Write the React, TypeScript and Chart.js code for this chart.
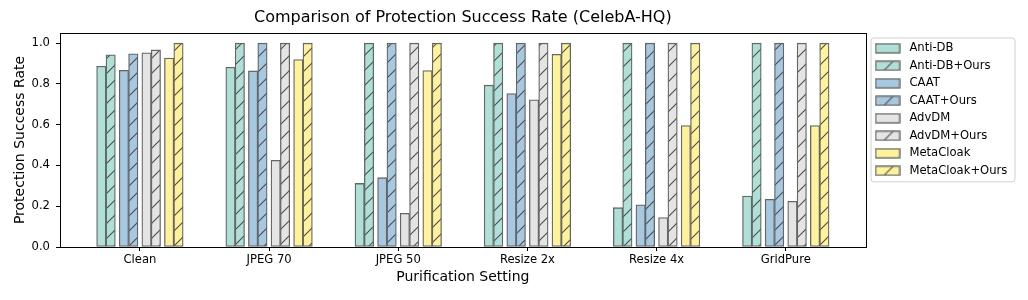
import React, { useEffect, useRef } from 'react';
import { Chart, registerables } from 'chart.js';

Chart.register(...registerables);

// ---------- data ----------
const categories = ['Clean', 'JPEG 70', 'JPEG 50', 'Resize 2x', 'Resize 4x', 'GridPure'];
const antiDB = [0.887, 0.882, 0.312, 0.794, 0.193, 0.25];
const antiDBOurs = [0.943, 1.0, 1.0, 1.0, 1.0, 1.0];
const caat = [0.867, 0.864, 0.34, 0.753, 0.207, 0.234];
const caatOurs = [0.948, 1.0, 1.0, 1.0, 1.0, 1.0];
const advDM = [0.953, 0.425, 0.165, 0.722, 0.144, 0.224];
const advDMOurs = [0.967, 1.0, 1.0, 1.0, 1.0, 1.0];
const metaCloak = [0.927, 0.92, 0.866, 0.945, 0.596, 0.596];
const metaCloakOurs = [1.0, 1.0, 1.0, 1.0, 1.0, 1.0];
const yTicks = [0, 0.2, 0.4, 0.6, 0.8, 1.0];

const seriesLabels = [
  'Anti-DB', 'Anti-DB+Ours', 'CAAT', 'CAAT+Ours',
  'AdvDM', 'AdvDM+Ours', 'MetaCloak', 'MetaCloak+Ours',
];
const seriesValues = [antiDB, antiDBOurs, caat, caatOurs, advDM, advDMOurs, metaCloak, metaCloakOurs];

// ---------- styles ----------
const fills = ['#afe0d8', '#a6c8e0', '#e4e4e4', '#fff29a'];
const EDGE = '#666666';
const HATCH = '#4d4d4d';
const FONT = 'DejaVu Sans';
const PAIR_SPACING = 0.175;
const BAR_W = 0.0725;
const HATCH_STEP = 15;

const barEdge = 1.5 * PAIR_SPACING + BAR_W;
const span = categories.length - 1 + 2 * barEdge;
const X_MIN = -barEdge - 0.05 * span;
const X_MAX = categories.length - 1 + barEdge + 0.05 * span;
const Y_MAX = 1.0 + 0.05 * 1.0;

function makeHatch(ctx: CanvasRenderingContext2D, fill: string) {
  const s = HATCH_STEP;
  const c = document.createElement('canvas');
  c.width = s;
  c.height = s;
  const g = c.getContext('2d')!;
  g.fillStyle = fill;
  g.fillRect(0, 0, s, s);
  g.strokeStyle = HATCH;
  g.lineWidth = 1.1;
  g.beginPath();
  g.moveTo(-1, s + 1);
  g.lineTo(s + 1, -1);
  g.moveTo(-1, 1);
  g.lineTo(1, -1);
  g.moveTo(s - 1, s + 1);
  g.lineTo(s + 1, s - 1);
  g.stroke();
  return ctx.createPattern(c, 'repeat')!;
}

function makePatch(fill: string, hatched: boolean) {
  const w = 26;
  const h = 11;
  const c = document.createElement('canvas');
  c.width = w;
  c.height = h;
  const g = c.getContext('2d')!;
  g.fillStyle = fill;
  g.fillRect(1, 1, w - 2, h - 2);
  if (hatched) {
    g.save();
    g.beginPath();
    g.rect(1, 1, w - 2, h - 2);
    g.clip();
    g.strokeStyle = HATCH;
    g.lineWidth = 1.1;
    g.beginPath();
    const cx = w / 2 + 1;
    g.moveTo(cx - h / 2, h);
    g.lineTo(cx + h / 2, 0);
    g.stroke();
    g.restore();
  }
  g.strokeStyle = EDGE;
  g.lineWidth = 1.3;
  g.strokeRect(1, 1, w - 2, h - 2);
  return c;
}

const LEGEND_SHIFT = 3.6;
const LEGEND_PAD = 5.9;
const LEGEND_ROW = 17.5;

const legendFrame = {
  id: 'legendFrame',
  afterLayout(chart: any) {
    const lg = chart.legend;
    if (lg) {
      lg.top += LEGEND_SHIFT;
      lg.bottom += LEGEND_SHIFT;
    }
  },
  beforeDraw(chart: any) {
    const lg = chart.legend;
    if (!lg) return;
    const ctx = chart.ctx;
    const y0 = lg.top + LEGEND_PAD;
    const left = lg.left + 5.3;
    const top = y0 - 4.5;
    const right = chart.width - 13;
    const bottom = y0 + (seriesLabels.length - 1) * LEGEND_ROW + 11.6 + 5.3;
    ctx.save();
    ctx.fillStyle = 'rgba(255,255,255,0.8)';
    ctx.strokeStyle = '#d0d0d0';
    ctx.lineWidth = 1;
    ctx.beginPath();
    (ctx as any).roundRect(left, top, right - left, bottom - top, 3);
    ctx.fill();
    ctx.stroke();
    ctx.restore();
  },
};

const frameBox = {
  id: 'frameBox',
  afterDatasetsDraw(chart: any) {
    const { left, top, right, bottom } = chart.chartArea;
    const ctx = chart.ctx;
    ctx.save();
    ctx.strokeStyle = '#000';
    ctx.lineWidth = 1;
    ctx.strokeRect(Math.round(left) + 0.5, Math.round(top) + 0.5, Math.round(right) - Math.round(left), Math.round(bottom) - Math.round(top));
    ctx.restore();
  },
};

export default function App() {
  const ref = useRef<HTMLCanvasElement>(null);

  useEffect(() => {
    const canvas = ref.current!;
    const ctx = canvas.getContext('2d')!;
    Chart.defaults.font.family = FONT;
    Chart.defaults.color = '#000';

    const datasets = seriesValues.map((vals, k) => {
      const method = Math.floor(k / 2);
      const ours = k % 2 === 1;
      const offset = (method - 1.5) * PAIR_SPACING + (ours ? BAR_W / 2 : -BAR_W / 2);
      return {
        label: seriesLabels[k],
        data: vals.map((v, i) => ({ x: i + offset, y: v })),
        backgroundColor: ours ? makeHatch(ctx, fills[method]) : fills[method],
        borderColor: EDGE,
        borderWidth: 1.3,
        borderSkipped: false as const,
        grouped: false,
        categoryPercentage: 1,
        barPercentage: 1,
      };
    });

    const patches = seriesLabels.map((_, k) => makePatch(fills[Math.floor(k / 2)], k % 2 === 1));

    const tickFont = { family: FONT, size: 11.6 };
    const chart = new Chart(canvas, {
      type: 'bar',
      data: { datasets: datasets as any },
      plugins: [legendFrame, frameBox],
      options: {
        animation: false,
        responsive: false,
        events: [],
        layout: { padding: { left: 8, right: 10.6, top: 0, bottom: 0 } },
        scales: {
          x: {
            type: 'linear',
            offset: false,
            min: X_MIN,
            max: X_MAX,
            afterBuildTicks: (s: any) => {
              s.ticks = categories.map((_, i) => ({ value: i }));
            },
            afterFit: (s: any) => {
              s.height = 53;
            },
            ticks: {
              callback: (v: any) => categories[v] ?? '',
              font: tickFont,
              color: '#000',
              padding: 2,
              autoSkip: false,
              maxRotation: 0,
            },
            grid: { display: true, offset: false, drawOnChartArea: false, drawTicks: true, tickLength: 4, tickColor: '#000', tickWidth: 1 },
            border: { display: false },
            title: { display: true, text: 'Purification Setting', font: { family: FONT, size: 14 }, color: '#000', padding: { top: 0, bottom: 14.6 } },
          },
          y: {
            type: 'linear',
            min: 0,
            max: Y_MAX,
            afterBuildTicks: (s: any) => {
              s.ticks = yTicks.map((v) => ({ value: v }));
            },
            afterFit: (s: any) => {
              s.width = 52;
            },
            ticks: {
              callback: (v: any) => Number(v).toFixed(1),
              font: tickFont,
              color: '#000',
              padding: 6,
            },
            grid: { display: true, drawOnChartArea: false, drawTicks: true, tickLength: 4, tickColor: '#000', tickWidth: 1 },
            border: { display: false },
            title: { display: true, text: 'Protection Success Rate', font: { family: FONT, size: 14 }, color: '#000', padding: { top: 4, bottom: 2 } },
          },
        },
        plugins: {
          title: {
            display: true,
            text: 'Comparison of Protection Success Rate (CelebA-HQ)',
            font: { family: FONT, size: 16, weight: 'normal' },
            color: '#000',
            fullSize: false,
            padding: { top: 8.5, bottom: 5.3 },
          },
          legend: {
            position: 'right',
            align: 'start',
            fullSize: false,
            labels: {
              usePointStyle: true,
              pointStyleWidth: 32,
              font: tickFont,
              color: '#000',
              padding: LEGEND_PAD,
              generateLabels: (ch: any) =>
                ch.data.datasets.map((ds: any, i: number) => ({
                  text: ds.label,
                  pointStyle: patches[i],
                  fillStyle: fills[Math.floor(i / 2)],
                  strokeStyle: EDGE,
                  lineWidth: 0,
                  hidden: false,
                  datasetIndex: i,
                })),
            },
          },
          tooltip: { enabled: false },
        },
      } as any,
    });
    return () => chart.destroy();
  }, []);

  return (
    <div style={{ position: 'fixed', left: 0, top: 0, width: 1028, height: 300, background: '#fff' }}>
      <canvas ref={ref} width={1028} height={300} style={{ display: 'block' }} />
    </div>
  );
}
